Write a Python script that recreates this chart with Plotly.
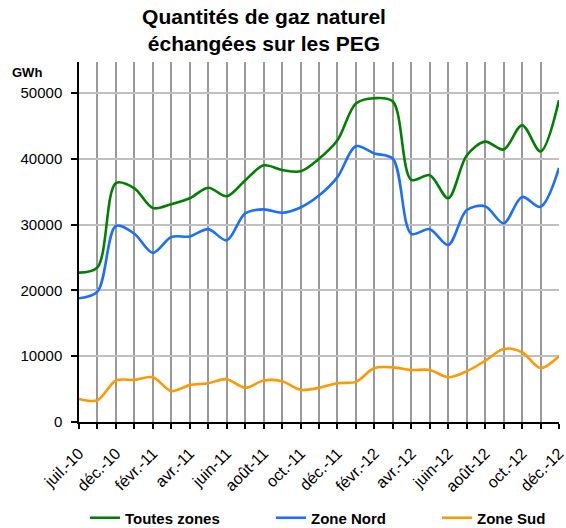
import plotly.graph_objects as go

categories = ["juil.-10", "nov.-10", "déc.-10", "janv.-11", "févr.-11", "mars-11", "avr.-11",
              "mai-11", "juin-11", "juil.-11", "août-11", "sept.-11", "oct.-11", "nov.-11",
              "déc.-11", "janv.-12", "févr.-12", "mars-12", "avr.-12", "mai-12", "juin-12",
              "juil.-12", "août-12", "sept.-12", "oct.-12", "nov.-12", "déc.-12"]

toutes_zones = [22700, 23500, 36300, 35500, 32500, 33100, 34000, 35600, 34300, 36700, 39000,
                38300, 38100, 40000, 42800, 48400, 49200, 48700, 36800, 37500, 34000, 40500,
                42600, 41400, 45100, 41100, 48900]
zone_nord = [18800, 19800, 29800, 28600, 25700, 28100, 28200, 29300, 27600, 31700, 32300,
             31800, 32600, 34400, 37200, 41900, 40800, 40000, 28600, 29300, 26900, 32200,
             32800, 30200, 34200, 32700, 38600]
zone_sud = [3500, 3300, 6300, 6400, 6800, 4700, 5600, 5900, 6500, 5200, 6300, 6200, 4900,
            5200, 5900, 6100, 8200, 8300, 7900, 7900, 6800, 7700, 9300, 11100, 10600, 8200, 10000]

series = [("Toutes zones", toutes_zones, "#008000", "legend", 85),
          ("Zone Nord", zone_nord, "#1a6fff", "legend2", 271),
          ("Zone Sud", zone_sud, "#ff9900", "legend3", 437)]

xs = list(range(len(categories)))
ticktext = [c if i % 2 == 0 else "" for i, c in enumerate(categories)]

font = "Liberation Sans, Arial, sans-serif"
fig = go.Figure()
legends = {}
for name, vals, col, lg, lx in series:
    fig.add_trace(go.Scatter(x=xs, y=vals, name="<b>" + name + "</b>", mode="lines",
                             legend=lg,
                             line=dict(color=col, width=2.6, shape="spline", smoothing=0.9)))
    legends[lg] = dict(orientation="h", x=lx / 566, xref="container", xanchor="left",
                       y=10 / 528, yref="container", yanchor="middle",
                       font=dict(size=15, family=font), bgcolor="rgba(0,0,0,0)")

fig.update_layout(
    width=566, height=528,
    margin=dict(l=79, r=7, t=62, b=106),
    paper_bgcolor="white", plot_bgcolor="white",
    font=dict(family=font, size=15, color="black"),
    title=dict(text="<b>Quantités de gaz naturel<br>échangées sur les PEG</b>",
               x=264 / 566, xanchor="center", y=0.955, yanchor="top",
               font=dict(size=21, family=font)),
    showlegend=True,
    annotations=[dict(text="<b>GWh</b>", xref="paper", yref="paper", x=-0.143, y=0.972,
                      xanchor="left", yanchor="middle", showarrow=False,
                      font=dict(size=13, family=font))],
    **legends,
)

fig.update_xaxes(range=[0, len(categories) - 1], tickmode="array", tickvals=xs, ticktext=ticktext,
                 tickangle=-45, showgrid=True, gridcolor="#999999", gridwidth=1.5,
                 showline=True, linecolor="black", linewidth=1.5, automargin=False,
                 ticks="outside", ticklen=5, tickcolor="black", tickwidth=1.5,
                 ticklabeloverflow="allow", ticklabelstandoff=9,
                 zeroline=False, tickfont=dict(size=16))
fig.update_yaxes(range=[0, 54700], tickmode="linear", tick0=0, dtick=10000, tickformat="d",
                 showgrid=True, gridcolor="#c0c0c0", gridwidth=1.5, automargin=False,
                 showline=True, linecolor="black", linewidth=1.5,
                 ticks="outside", ticklen=6, tickcolor="black", tickwidth=1.5,
                 ticklabelstandoff=6,
                 zeroline=False, tickfont=dict(size=15))

fig.write_html("out.html", config={"displayModeBar": False},
               post_script="document.body.style.margin='0px';")
